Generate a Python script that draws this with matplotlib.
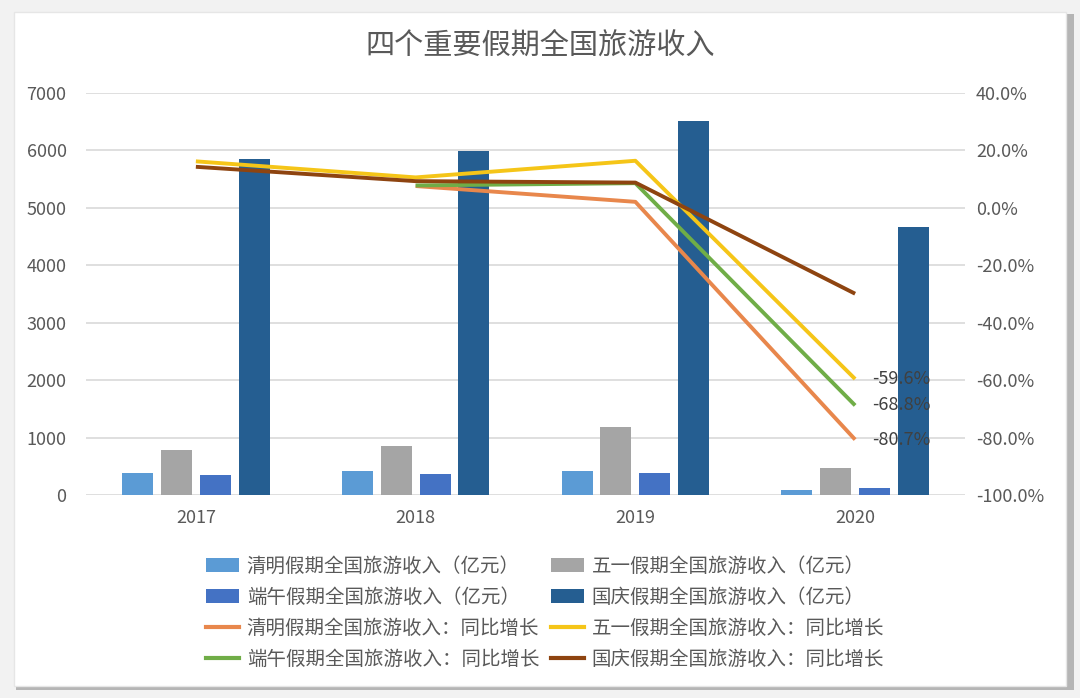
import numpy as np
import matplotlib.pyplot as plt
from matplotlib.patches import Rectangle, Patch
from matplotlib.lines import Line2D
from matplotlib.ticker import PercentFormatter

plt.rcParams['font.family'] = ['Noto Sans CJK SC', 'DejaVu Sans']
plt.rcParams['axes.unicode_minus'] = False

years = ['2017', '2018', '2019', '2020']

# 旅游收入（亿元）
qingming_rev = [388, 418, 418, 87]
wuyi_rev = [784, 858, 1179, 465]
duanwu_rev = [343, 360, 388, 117]
guoqing_rev = [5845, 5995, 6512, 4667]

# 同比增长（%）
qingming_yoy = [np.nan, 7.6, 2.1, -80.7]
wuyi_yoy = [16.2, 10.6, 16.4, -59.6]
duanwu_yoy = [np.nan, 7.8, 8.6, -68.8]
guoqing_yoy = [14.3, 9.3, 8.8, -29.9]

bar_names = ['清明假期全国旅游收入（亿元）', '五一假期全国旅游收入（亿元）',
             '端午假期全国旅游收入（亿元）', '国庆假期全国旅游收入（亿元）']
line_names = ['清明假期全国旅游收入：同比增长', '五一假期全国旅游收入：同比增长',
              '端午假期全国旅游收入：同比增长', '国庆假期全国旅游收入：同比增长']
bar_colors = ['#5B9BD5', '#A5A5A5', '#4472C4', '#255E91']
line_colors = ['#E8874C', '#F5C518', '#70AD47', '#8E4410']

W, H = 1080, 698
fig = plt.figure(figsize=(W / 100, H / 100), dpi=100)
fig.patch.set_facecolor('#f2f2f2')
# card with shadow
fig.add_artist(Rectangle((16 / W, 1 - 690 / H), 1058 / W, 676 / H, transform=fig.transFigure,
                         facecolor='#b5b5b5', edgecolor='none', zorder=0))
fig.add_artist(Rectangle((14 / W, 1 - 686 / H), 1052 / W, 674 / H, transform=fig.transFigure,
                         facecolor='white', edgecolor='#e6e6e6', lw=1, zorder=0))

ax = fig.add_axes([86 / W, 1 - 495 / H, 879 / W, 402 / H])
ax.set_facecolor('none')
x = np.arange(len(years))
width = 0.141
step = 0.177
revs = [qingming_rev, wuyi_rev, duanwu_rev, guoqing_rev]
for i, (vals, c) in enumerate(zip(revs, bar_colors)):
    ax.bar(x + (i - 1.5) * step, vals, width, color=c, zorder=2)

ax.set_xlim(-0.5, 3.5)
ax.set_ylim(0, 7000)
ax.set_yticks(range(0, 7001, 1000))
ax.set_xticks(x)
ax.set_xticklabels(years)
ax.grid(axis='y', color='#d9d9d9', lw=1.2, zorder=0)
for s in ax.spines.values():
    s.set_visible(False)
ax.tick_params(axis='both', length=0, labelsize=13, colors='#595959')
ax.tick_params(axis='y', pad=14)
ax.tick_params(axis='x', pad=10)

ax2 = ax.twinx()
ax2.set_ylim(-100, 40)
ax2.set_yticks(range(-100, 41, 20))
ax2.yaxis.set_major_formatter(PercentFormatter(decimals=1))
for s in ax2.spines.values():
    s.set_visible(False)
ax2.tick_params(axis='y', length=0, labelsize=13, colors='#595959', pad=8)
yoys = [qingming_yoy, wuyi_yoy, duanwu_yoy, guoqing_yoy]
for vals, c in zip(yoys, line_colors):
    ax2.plot(x, vals, color=c, lw=2.8, solid_capstyle='butt', zorder=3)
for vals in [wuyi_yoy, duanwu_yoy, qingming_yoy]:
    ax2.annotate(f'{vals[-1]:.1f}%', (x[-1], vals[-1]), xytext=(12, 0), textcoords='offset points',
                 ha='left', va='center', fontsize=13, color='#404040', zorder=4)

fig.text(540 / W, 1 - 46 / H, '四个重要假期全国旅游收入', ha='center', va='center',
         fontsize=21, color='#595959')

handles = []
for i in range(4):
    handles.append(Patch(facecolor=bar_colors[i], edgecolor='none', label=bar_names[i]))
for i in range(4):
    handles.append(Line2D([], [], color=line_colors[i], lw=3, label=line_names[i]))
# rows: bar0 bar1 / bar2 bar3 / line0 line1 / line2 line3 -> column-major for ncol=2
order = [0, 2, 4, 6, 1, 3, 5, 7]
leg = fig.legend([handles[k] for k in order], [handles[k].get_label() for k in order],
                 ncol=2, loc='center', bbox_to_anchor=(545 / W, 1 - 613 / H), frameon=False,
                 fontsize=14, labelcolor='#595959', handlelength=1.7, handletextpad=0.4,
                 columnspacing=0.6, labelspacing=0.52)

fig.savefig('out.png', dpi=100, facecolor=fig.get_facecolor())
